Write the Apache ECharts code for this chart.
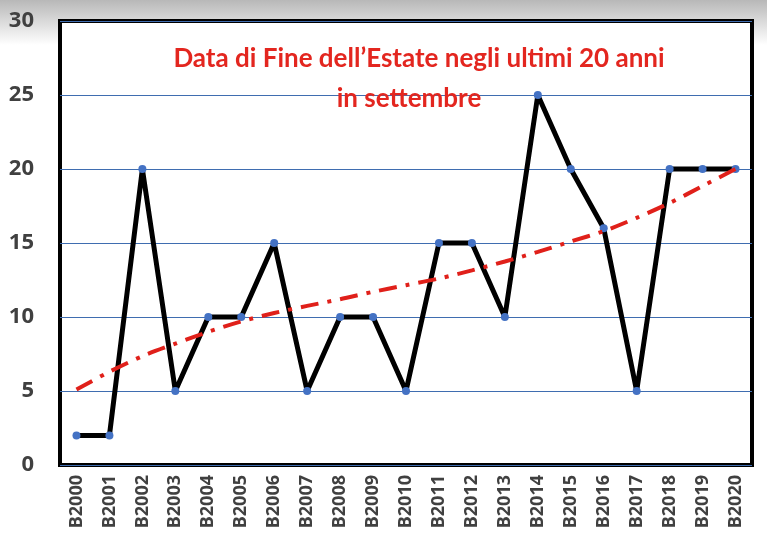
<!DOCTYPE html>
<html>
<head>
<meta charset="utf-8">
<script src="https://cdn.jsdelivr.net/npm/echarts@6/dist/echarts.min.js"></script>
<style>
  html, body { margin: 0; padding: 0; background: #fff; }
  #chart { width: 767px; height: 538px; }
</style>
</head>
<body>
<div id="chart"></div>
<script>
// data
const anni = ['B2000', 'B2001', 'B2002', 'B2003', 'B2004', 'B2005', 'B2006', 'B2007', 'B2008', 'B2009', 'B2010',
  'B2011', 'B2012', 'B2013', 'B2014', 'B2015', 'B2016', 'B2017', 'B2018', 'B2019', 'B2020']
const giorni = [2, 2, 20, 5, 10, 10, 15, 5, 10, 10, 5, 15, 15, 10, 25, 20, 16, 5, 20, 20, 20]
// trend line (polynomial in the original), read at each category
const tendenza = [5.1, 6.3, 7.35, 8.2, 9.0, 9.7, 10.27, 10.75, 11.2, 11.7, 12.15,
  12.6, 13.15, 13.75, 14.4, 15.1, 15.8, 16.7, 17.7, 18.85, 20.0]
const titolo1 = 'Data di Fine dell\u2019Estate negli ultimi 20 anni'
const titolo2 = 'in settembre'

let elm = document.getElementById('chart')
let myChart = echarts.init(elm)

const titleStyle = {
  color: '#e3261f',
  fontFamily: 'Lato',
  fontWeight: 'bold',
  fontSize: 26
}

let options = {
  backgroundColor: '#ffffff',
  animation: false,
  graphic: [
    {
      type: 'rect', left: 0, top: 0, z: -10,
      shape: { width: 767, height: 45 },
      style: {
        fill: new echarts.graphic.LinearGradient(0, 0, 0, 1, [
          { offset: 0, color: '#b8b8b8' },
          { offset: 1, color: '#ffffff' }
        ])
      }
    }
  ],
  title: [
    { text: titolo1, left: 414, top: 41, textAlign: 'center', textStyle: titleStyle },
    { text: titolo2, left: 404, top: 81, textAlign: 'center', textStyle: titleStyle }
  ],
  grid: {
    left: 60, right: 15, top: 21, bottom: 73,
    show: true,
    backgroundColor: '#ffffff',
    borderColor: '#000000',
    borderWidth: 4
  },
  xAxis: {
    type: 'category',
    data: anni,
    boundaryGap: true,
    axisLine: { show: false },
    axisTick: { show: false },
    axisLabel: {
      rotate: 90,
      interval: 0,
      margin: 10,
      color: '#404040',
      fontFamily: 'Open Sans',
      fontWeight: 'bold',
      fontSize: 18
    }
  },
  yAxis: {
    type: 'value',
    min: 0, max: 30, interval: 5,
    axisLine: { show: false },
    axisTick: { show: false },
    splitLine: { lineStyle: { color: '#3f6db0', width: 1 } },
    axisLabel: {
      margin: 26,
      color: '#404040',
      fontFamily: 'Open Sans',
      fontWeight: 'bold',
      fontSize: 22
    }
  },
  series: [
    {
      type: 'line',
      data: giorni,
      z: 3,
      symbol: 'circle',
      symbolSize: 8,
      lineStyle: { color: '#000000', width: 5 },
      itemStyle: { color: '#4472c4' }
    },
    {
      type: 'line',
      data: tendenza,
      z: 4,
      smooth: 0.3,
      symbol: 'none',
      lineStyle: {
        color: '#e0201a',
        width: 4,
        type: [18, 9, 4, 9]
      }
    }
  ]
}

myChart.setOption(options)
</script>
</body>
</html>
